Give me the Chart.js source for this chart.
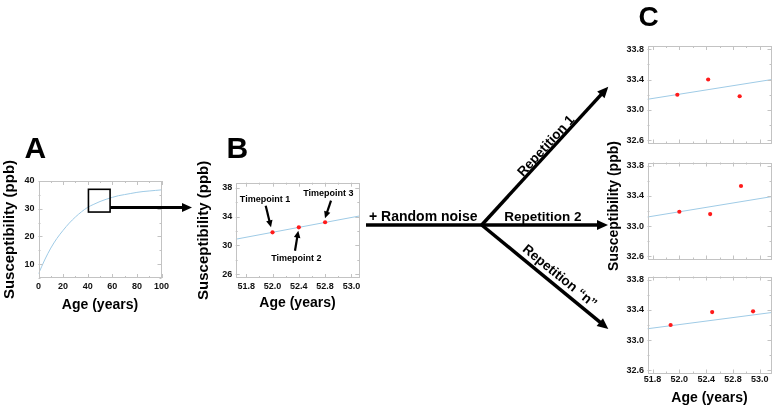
<!DOCTYPE html>
<html>
<head>
<meta charset="utf-8">
<script src="https://cdn.jsdelivr.net/npm/chart.js@4.4.0/dist/chart.umd.min.js"></script>
<style>
  html, body { margin: 0; padding: 0; background: #fff; }
  #fig { position: relative; width: 779px; height: 408px; overflow: hidden; }
  #fig canvas { position: absolute; }
  #overlay { position: absolute; left: 0; top: 0; }
</style>
</head>
<body>
<div id="fig">
  <canvas id="chartA" width="170" height="180" style="left:0px;top:140px"></canvas>
  <canvas id="chartB" width="170" height="180" style="left:195px;top:140px"></canvas>
  <canvas id="chartC1" width="179" height="120" style="left:600px;top:30px"></canvas>
  <canvas id="chartC2" width="179" height="115" style="left:600px;top:150px"></canvas>
  <canvas id="chartC3" width="179" height="143" style="left:600px;top:265px"></canvas>
  <svg id="overlay" width="779" height="408"></svg>
</div>
<script>
// Panel A: susceptibility trajectory over the lifespan
const curveAges   = [0, 5, 10, 15, 20, 25, 30, 35, 40, 45, 50, 55, 60, 65, 70, 75, 80, 85, 90, 95, 100];
const curveValues = [6.5, 11.5, 15.8, 19.3, 22.2, 24.8, 27.0, 28.9, 30.5, 31.6, 32.6, 33.4, 34.1, 34.7, 35.1, 35.5, 35.9, 36.2, 36.4, 36.6, 36.8];
const zoomBoxAges   = [40.6, 58.2];
const zoomBoxValues = [28.8, 37.0];
const aAgeTicks = [0, 20, 40, 60, 80, 100];
const aSuscTicks = [10, 20, 30, 40];

// Panel B: local linear segment with three timepoints
const bLineAges   = [51.44, 53.32];
const bLineValues = [30.84, 34.07];
const timepointAges   = [52.0, 52.4, 52.8];
const timepointValues = [31.8, 32.5, 33.2];
const bSuscTicks = [26, 30, 34, 38];

// shared age ticks for B and C (label text as printed on the figure)
const ageTickValues = [51.6, 52.0, 52.4, 52.8, 53.2];
const ageTickLabels = ['51.8', '52.0', '52.4', '52.8', '53.0'];

// Panel C: repetitions with random noise
const cLineAges = [51.52, 53.38];
const rep1Line = [33.14, 33.40];
const rep2Line = [33.12, 33.39];
const repNLine = [33.15, 33.365];
const rep1Ages = [51.97, 52.43, 52.90];
const rep1Values = [33.20, 33.40, 33.18];
const rep2Ages = [52.00, 52.46, 52.92];
const rep2Values = [33.19, 33.16, 33.53];
const repNAges = [51.87, 52.49, 53.10];
const repNValues = [33.20, 33.37, 33.38];
const cSuscTicks = [32.6, 33.0, 33.4, 33.8];
const cSuscLabels = ['32.6', '33.0', '33.4', '33.8'];

const FONT = "'Liberation Sans', Arial, sans-serif";
const LINE_BLUE = '#9fcbe6';
const POINT_RED = '#ff1a1a';

Chart.defaults.font.family = FONT;
Chart.defaults.color = '#111';
Chart.defaults.animation = false;

function zip(xs, ys) {
    return xs.map((x, i) => ({ x: x, y: ys[i] }));
}

// linear axis with fixed size, explicit ticks and no grid
function axis(o) {
    return {
        type: 'linear',
        min: o.min,
        max: o.max,
        grid: { display: false, drawTicks: false, tickLength: 0 },
        border: { display: false },
        ticks: {
            display: o.showLabels !== false,
            padding: o.pad || 3,
            font: { size: 9, weight: 'bold' },
            color: '#111',
            callback: (v, i) => (o.labels ? o.labels[i] : String(v))
        },
        title: o.title ? {
            display: true,
            text: o.title,
            color: '#000',
            font: { size: o.titleSize || 14, weight: 'bold' },
            padding: o.titlePad || { top: 0, bottom: 0 }
        } : { display: false },
        afterBuildTicks: s => { s.ticks = o.values.map(v => ({ value: v })); },
        afterFit: s => {
            if (s.isHorizontal()) s.height = o.size; else s.width = o.size;
            s.paddingLeft = s.paddingRight = s.paddingTop = s.paddingBottom = 0;
        }
    };
}

// gray frame with small inward ticks on all four sides
const framePlugin = {
    id: 'frame',
    afterDatasetsDraw(chart) {
        const { ctx, chartArea: a, scales } = chart;
        ctx.save();
        ctx.strokeStyle = '#c3c3c3';
        ctx.lineWidth = 1;
        ctx.strokeRect(Math.round(a.left) + 0.5, Math.round(a.top) + 0.5,
                       Math.round(a.width) - 1, Math.round(a.height) - 1);
        ctx.beginPath();
        ['x', 'y'].forEach(id => {
            const s = scales[id];
            const vals = s.ticks.map(t => t.value);
            const step = vals[1] - vals[0];
            const marks = [];
            for (let v = vals[0] - step; v <= vals[vals.length - 1] + step + 1e-9; v += step / 2) {
                const major = Math.abs(((v - vals[0]) / step) - Math.round((v - vals[0]) / step)) < 1e-6;
                if (v >= s.min - 1e-9 && v <= s.max + 1e-9) marks.push([v, major ? 4 : 2]);
            }
            marks.forEach(([v, len]) => {
                const p = Math.round(s.getPixelForValue(v)) + 0.5;
                if (id === 'x') {
                    ctx.moveTo(p, a.bottom); ctx.lineTo(p, a.bottom - len);
                    ctx.moveTo(p, a.top); ctx.lineTo(p, a.top + len);
                } else {
                    ctx.moveTo(a.left, p); ctx.lineTo(a.left + len, p);
                    ctx.moveTo(a.right, p); ctx.lineTo(a.right - len, p);
                }
            });
        });
        ctx.stroke();
        ctx.restore();
    }
};

// square marking the zoomed region in panel A
const zoomBoxPlugin = {
    id: 'zoomBox',
    afterDatasetsDraw(chart) {
        const { ctx, scales: { x, y } } = chart;
        const x0 = x.getPixelForValue(zoomBoxAges[0]), x1 = x.getPixelForValue(zoomBoxAges[1]);
        const y0 = y.getPixelForValue(zoomBoxValues[1]), y1 = y.getPixelForValue(zoomBoxValues[0]);
        ctx.save();
        ctx.strokeStyle = '#000';
        ctx.lineWidth = 1.6;
        ctx.strokeRect(x0, y0, x1 - x0, y1 - y0);
        ctx.restore();
    }
};

function lineSet(xs, ys) {
    return {
        data: zip(xs, ys), showLine: true, borderColor: LINE_BLUE, borderWidth: 1,
        pointRadius: 0, cubicInterpolationMode: 'monotone', order: 2
    };
}
function pointSet(xs, ys) {
    return {
        data: zip(xs, ys), showLine: false, pointRadius: 2.1, pointBackgroundColor: POINT_RED,
        pointBorderWidth: 0, order: 1
    };
}

function makeChart(id, datasets, padding, xAxis, yAxis, extra) {
    return new Chart(document.getElementById(id), {
        type: 'scatter',
        data: { datasets: datasets },
        options: {
            responsive: false,
            layout: { padding: padding },
            plugins: { legend: { display: false }, tooltip: { enabled: false } },
            scales: { x: xAxis, y: yAxis }
        },
        plugins: [framePlugin].concat(extra || [])
    });
}

// Panel A
makeChart('chartA',
    [lineSet(curveAges, curveValues)],
    { left: 0, top: 41, right: 8.5, bottom: 0 },
    axis({ min: 0, max: 100, values: aAgeTicks, size: 42, pad: 3, title: 'Age (years)',
           titlePad: { top: 0, bottom: 6.3 } }),
    axis({ min: 5, max: 40, values: aSuscTicks, size: 38.5, pad: 4, title: 'Susceptibility (ppb)',
           titleSize: 15, titlePad: { top: 0.5, bottom: 0 } }),
    [zoomBoxPlugin]);

// Panel B
makeChart('chartB',
    [lineSet(bLineAges, bLineValues), pointSet(timepointAges, timepointValues)],
    { left: 0, top: 42.7, right: 5.7, bottom: 0 },
    axis({ min: 51.44, max: 53.32, values: ageTickValues, labels: ageTickLabels, size: 42, pad: 3,
           title: 'Age (years)', titlePad: { top: 0, bottom: 8 } }),
    axis({ min: 25.45, max: 38.7, values: bSuscTicks, size: 40.7, pad: 3.5, title: 'Susceptibility (ppb)',
           titleSize: 15, titlePad: { top: 0.3, bottom: 0 } }));

// Panel C (three repetitions)
const cX = { min: 51.525, max: 53.375, values: ageTickValues, labels: ageTickLabels };
const cY = { min: 32.56, max: 33.84, values: cSuscTicks, labels: cSuscLabels, size: 47.5, pad: 3.5 };

makeChart('chartC1',
    [lineSet(cLineAges, rep1Line), pointSet(rep1Ages, rep1Values)],
    { left: 0, top: 16, right: 7.5, bottom: 0 },
    axis(Object.assign({}, cX, { size: 6.5, showLabels: false })),
    axis(cY));

makeChart('chartC2',
    [lineSet(cLineAges, rep2Line), pointSet(rep2Ages, rep2Values)],
    { left: 0, top: 12.5, right: 7.5, bottom: 0 },
    axis(Object.assign({}, cX, { size: 5.5, showLabels: false })),
    axis(cY));

makeChart('chartC3',
    [lineSet(cLineAges, repNLine), pointSet(repNAges, repNValues)],
    { left: 0, top: 11.5, right: 7.5, bottom: 0 },
    axis(Object.assign({}, cX, { size: 34.5, pad: 1, title: 'Age (years)',
           titlePad: { top: 0, bottom: 1.3 } })),
    axis(cY));

// annotations: panel letters, arrows and labels
function arrow(x1, y1, x2, y2, w, hl, hw) {
    const dx = x2 - x1, dy = y2 - y1, L = Math.hypot(dx, dy);
    const ux = dx / L, uy = dy / L;
    const bx = x2 - ux * hl, by = y2 - uy * hl;
    const px = -uy * hw / 2, py = ux * hw / 2;
    return `<line x1="${x1}" y1="${y1}" x2="${bx + ux}" y2="${by + uy}" stroke="#000" stroke-width="${w}"/>` +
           `<polygon points="${x2},${y2} ${bx + px},${by + py} ${bx - px},${by - py}" fill="#000"/>`;
}
function text(str, x, y, size, rot, anchor) {
    const tr = rot ? ` transform="rotate(${rot} ${x} ${y})"` : '';
    return `<text x="${x}" y="${y}" font-size="${size}" font-weight="bold" text-anchor="${anchor || 'middle'}" dominant-baseline="central"${tr}>${str}</text>`;
}

let svg = '';
svg += `<g font-family="${FONT.replace(/"/g, '')}" fill="#000">`;
svg += text('A', 35.3, 147.5, 30);
svg += text('B', 237.3, 147, 30);
svg += text('C', 648.5, 16.7, 28);

svg += arrow(110.3, 207.5, 192, 207.5, 3, 10, 9);

svg += text('Timepoint 1', 265, 199.3, 9);
svg += arrow(265.7, 205.7, 271, 227.3, 2.2, 7, 6.5);
svg += text('Timepoint 2', 296.3, 258.3, 9);
svg += arrow(295, 250.7, 298.3, 230.7, 2.2, 7, 6.5);
svg += text('Timepoint 3', 328.3, 193.3, 9);
svg += arrow(331, 200.7, 325, 218.3, 2.2, 7, 6.5);

svg += `<line x1="366" y1="225" x2="482" y2="225" stroke="#000" stroke-width="3.5"/>`;
svg += text('+ Random noise', 423.3, 215.7, 14);
svg += arrow(481.7, 225, 608.3, 86.7, 3.5, 11, 10);
svg += arrow(481.7, 225, 608, 225, 3.5, 11, 10);
svg += arrow(481.7, 225, 608.3, 329, 3.5, 11, 10);
svg += text('Repetition 1', 545.7, 145.7, 13.5, -47.5);
svg += text('Repetition 2', 542.8, 216, 13.5);
svg += text('Repetition \u201cn\u201d', 560, 276, 13.5, 39.2);

svg += text('Susceptibility (ppb)', 613, 206, 14, -90);
svg += '</g>';
document.getElementById('overlay').innerHTML = svg;
</script>
</body>
</html>
